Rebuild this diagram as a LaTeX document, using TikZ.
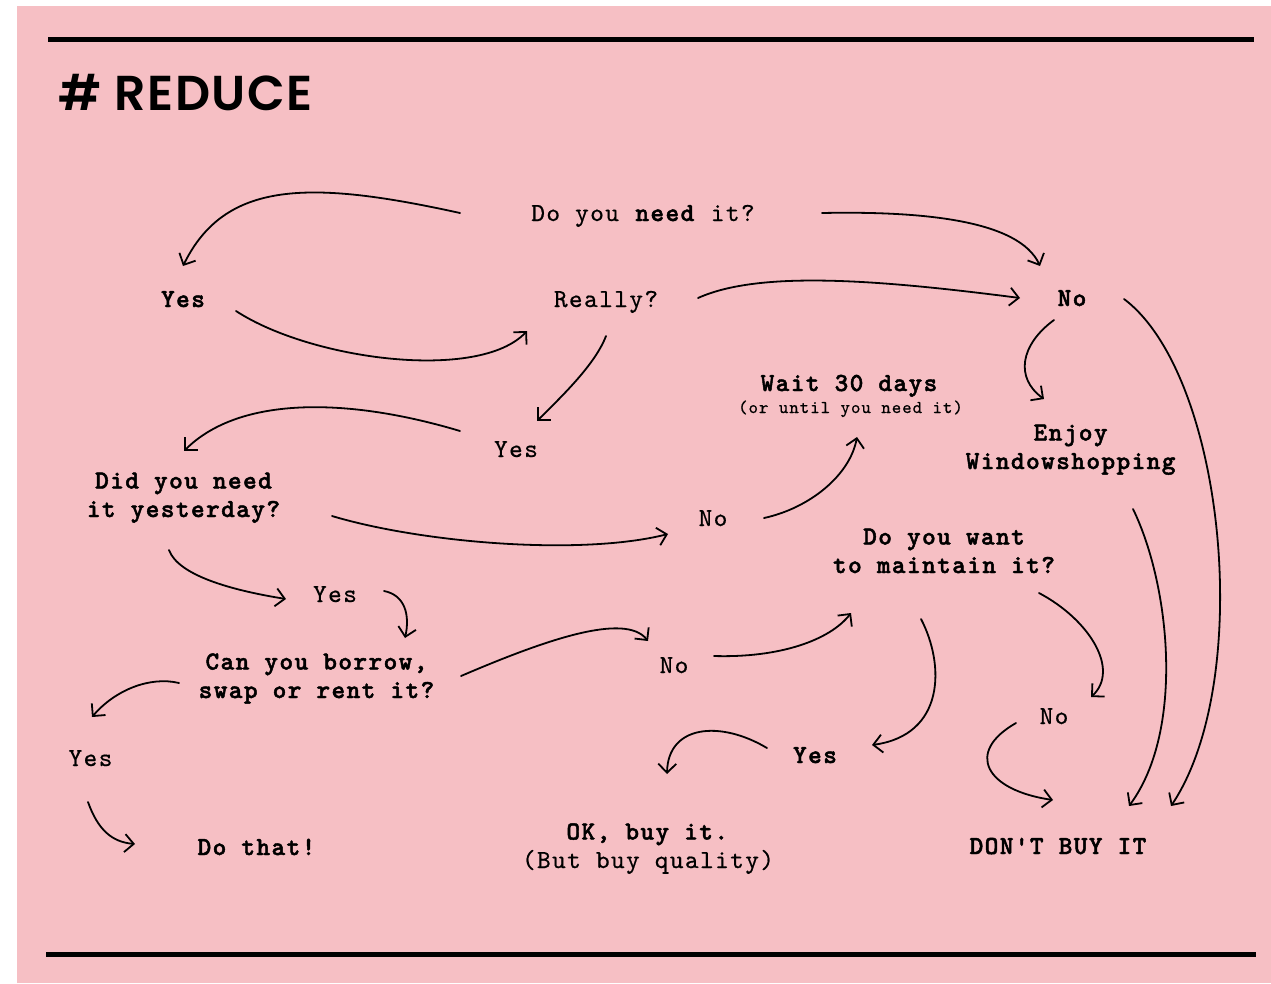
\documentclass[tikz,border=0pt]{standalone}
\usepackage{fontspec}
\usetikzlibrary{arrows.meta}
\newfontfamily\titlefont{Poppins SemiBold}[LetterSpace=3]
\newfontfamily\mono{lmmono10-regular.otf}[FakeBold=0.6, BoldFont=lmmonolt10-bold.otf, BoldFeatures={FakeBold=1.8}, LetterSpace=5.5]
\definecolor{pinkbg}{RGB}{246,191,196}
\frenchspacing
\tikzset{
  t/.style={font=\mono\fontsize{26}{28.5}\selectfont, inner sep=0pt, anchor=base, align=center},
  tb/.style={font=\mono\bfseries\fontsize{26}{28.5}\selectfont, inner sep=0pt, anchor=base, align=center},
  ts/.style={font=\mono\fontsize{18}{20}\selectfont, inner sep=0pt, anchor=base, align=center},
  arr/.style={line width=1.8pt, -{Straight Barb[length=9pt,width=18pt]}, line cap=round, line join=round},
  rule/.style={fill=black}
}
\begin{document}
\begin{tikzpicture}[x=1pt,y=-1pt]
\useasboundingbox (0,0) rectangle (1271,983);
\fill[white] (0,0) rectangle (1271,983);
\fill[pinkbg] (17,6) rectangle (1271,983);
\fill[rule] (48,37) rectangle (1254,42);
\fill[rule] (46,952) rectangle (1256,957);
\node[anchor=base west, inner sep=0pt, font=\titlefont\fontsize{49}{54}\selectfont] (title) at (58,110) {\# REDUCE};

\node[t] (q1) at (643,221) {Do you \textbf{need} it?};
\node[tb] (yesA) at (183,307) {Yes};
\node[t] (really) at (606,307) {Really?};
\node[tb] (noA) at (1072,306) {No};
\node[tb] (wait) at (849,391) {Wait 30 days};
\node[ts] (waitnote) at (850.5,413) {(or until you need it)};
\node[tb] (enjoy) at (1070.6,469) {Enjoy\\Windowshopping};
\node[tb] (didneed) at (183.5,517) {Did you need\\it yesterday?};
\node[t] (yesB) at (516,457) {Yes};
\node[t] (noB) at (713,526) {No};
\node[t] (yesC) at (335,602) {Yes};
\node[tb] (borrow) at (316.5,698) {Can you borrow,\\swap or rent it?};
\node[t] (noC) at (674,673) {No};
\node[t] (yesE) at (90.5,766) {Yes};
\node[tb] (dothat) at (256.5,855) {Do that!};
\node[t] (okbuy) at (648,868) {\textbf{OK, buy it.}\\(But buy quality)};
\node[tb] (yesD) at (815,763) {Yes};
\node[tb] (maintain) at (944,573) {Do you want\\to maintain it?};
\node[t] (noD) at (1054,724) {No};
\node[tb] (dont) at (1058,854) {DON'T BUY IT};

\draw[arr] ([shift={(-183,-8)}]q1.base) .. controls (310,180) and (225,180) .. ([shift={(0,-41)}]yesA.base);
\draw[arr] ([shift={(53,4)}]yesA.base) .. controls (311,360) and (479,382) .. ([shift={(-79,24)}]really.base);
\draw[arr] ([shift={(92,-9)}]really.base) .. controls (760,270) and (880,280) .. ([shift={(-52,-8)}]noA.base);
\draw[arr] ([shift={(179,-8)}]q1.base) .. controls (922,211) and (1019,220) .. ([shift={(-32,-40)}]noA.base);
\draw[arr] ([shift={(0,29)}]really.base) .. controls (595,365) and (560,398) .. ([shift={(21,-36)}]yesB.base);
\draw[arr] ([shift={(-56,-26)}]yesB.base) .. controls (350,398) and (240,395) .. ([shift={(0.5,-66)}]didneed.base);
\draw[arr] ([shift={(148.5,-1)}]didneed.base) .. controls (422,543) and (581,556) .. ([shift={(-45,8)}]noB.base);
\draw[arr] ([shift={(-14.5,33)}]didneed.base) .. controls (178,575) and (230,590) .. ([shift={(-49,-3)}]yesC.base);
\draw[arr] ([shift={(49,-11)}]yesC.base) .. controls (405,595) and (410,615) .. ([shift={(88.5,-60)}]borrow.base);
\draw[arr] ([shift={(144.5,-22)}]borrow.base) .. controls (545,640) and (625,612) .. ([shift={(-26,-32)}]noC.base);
\draw[arr] ([shift={(40,-17)}]noC.base) .. controls (780,658) and (830,640) .. ([shift={(-93,40)}]maintain.base);
\draw[arr] ([shift={(51,-8)}]noB.base) .. controls (810,508) and (850,475) .. ([shift={(6.5,24)}]waitnote.base);
\draw[arr] ([shift={(-23,46)}]maintain.base) .. controls (945,665) and (945,735) .. ([shift={(57,-18)}]yesD.base);
\draw[arr] ([shift={(95,20)}]maintain.base) .. controls (1090,620) and (1120,670) .. ([shift={(37,-27)}]noD.base);
\draw[arr] ([shift={(-38,-1)}]noD.base) .. controls (965,752) and (985,790) .. ([shift={(-5,-54)}]dont.base);
\draw[arr] ([shift={(62.4,40)}]enjoy.base) .. controls (1170,585) and (1185,730) .. ([shift={(71,-48)}]dont.base);
\draw[arr] ([shift={(52,-7)}]noA.base) .. controls (1225,375) and (1255,680) .. ([shift={(113,-48)}]dont.base);
\draw[arr] ([shift={(-18,14)}]noA.base) .. controls (1020,345) and (1015,378) .. ([shift={(-26.6,-70)}]enjoy.base);
\draw[arr] ([shift={(-48,-15)}]yesD.base) .. controls (720,720) and (668,725) .. ([shift={(19,-94)}]okbuy.base);
\draw[arr] ([shift={(-137.5,-15)}]borrow.base) .. controls (150,676) and (115,690) .. ([shift={(1.5,-49)}]yesE.base);
\draw[arr] ([shift={(-2.5,36)}]yesE.base) .. controls (98,830) and (112,842) .. ([shift={(-121.5,-11)}]dothat.base);
\end{tikzpicture}
\end{document}
